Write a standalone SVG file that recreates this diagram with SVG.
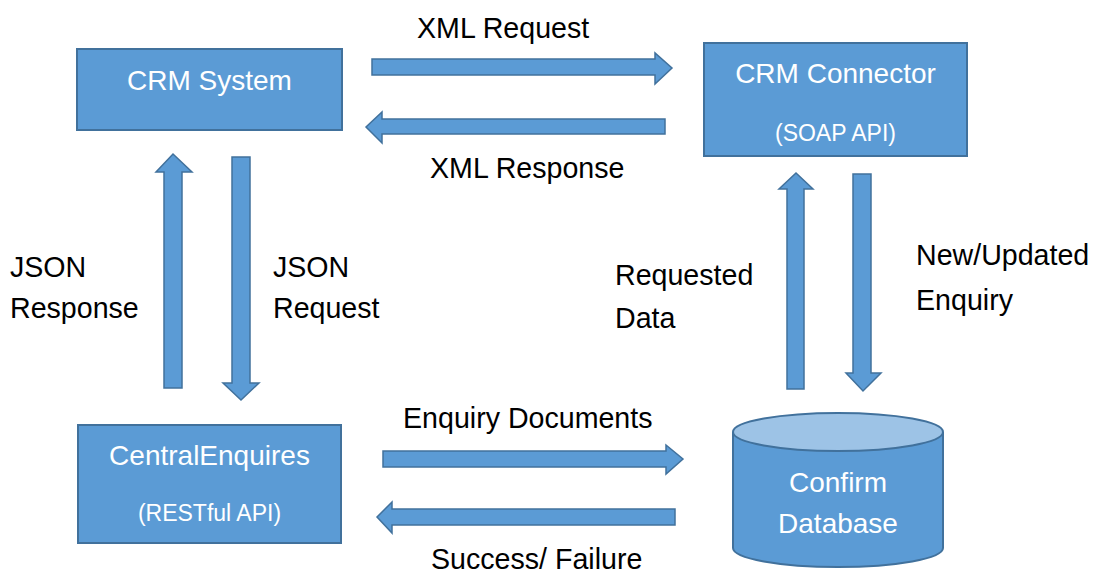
<svg xmlns="http://www.w3.org/2000/svg" width="1105" height="573" viewBox="0 0 1105 573">
<style>
.box{fill:#5b9bd5;stroke:#41719c;stroke-width:2}
.arr{fill:#5b9bd5;stroke:#41719c;stroke-width:1.5;stroke-linejoin:miter}
.top{fill:#9dc3e6;stroke:#41719c;stroke-width:2}
.t{font-family:"Liberation Sans",Arial,sans-serif;font-size:28.6px;fill:#000}
.w{font-family:"Liberation Sans",Arial,sans-serif;font-size:28px;fill:#fff;text-anchor:middle}
.s{font-family:"Liberation Sans",Arial,sans-serif;font-size:23px;fill:#fff;text-anchor:middle}
</style>
<rect width="1105" height="573" fill="#fff"/>
<g id="crm-system">
<rect class="box" x="77" y="49" width="265" height="81"/>
<text class="w" x="209.5" y="90">CRM System</text>
</g>
<g id="crm-connector">
<rect class="box" x="704" y="43" width="263" height="113"/>
<text class="w" x="835.5" y="83">CRM Connector</text>
<text class="s" x="835.5" y="141">(SOAP API)</text>
</g>
<g id="central-enquires">
<rect class="box" x="78" y="425" width="263" height="118"/>
<text class="w" x="209.5" y="465">CentralEnquires</text>
<text class="s" x="209.5" y="521">(RESTful API)</text>
</g>
<g id="confirm-database">
<path class="box" d="M733,432 L733,548 A105,19 0 0 0 943,548 L943,432"/>
<ellipse class="top" cx="838" cy="432" rx="105" ry="19"/>
<text class="w" x="838" y="492">Confirm</text>
<text class="w" x="838" y="533">Database</text>
</g>
<g id="connectors">
<path class="arr" d="M372,59 L655,59 L655,53 L672,68 L655,84 L655,75 L372,75 Z"/>
<path class="arr" d="M665,119 L382,119 L382,112 L366,127 L382,143 L382,134 L665,134 Z"/>
<path class="arr" d="M164,388 L164,172 L156,172 L173,154 L192,172 L182,172 L182,388 Z"/>
<path class="arr" d="M232,157 L250,157 L250,383 L259,383 L241,400 L223,383 L232,383 Z"/>
<path class="arr" d="M787,389 L787,189 L779,189 L796,173 L813,189 L804,189 L804,389 Z"/>
<path class="arr" d="M853,174 L871,174 L871,373 L881,373 L863,391 L846,373 L853,373 Z"/>
<path class="arr" d="M383,451 L666,451 L666,445 L683,459 L666,474 L666,467 L383,467 Z"/>
<path class="arr" d="M675,509 L392,509 L392,502 L377,517 L392,533 L392,525 L675,525 Z"/>
</g>
<g id="labels">
<text class="t" x="417" y="38">XML Request</text>
<text class="t" x="430" y="178">XML Response</text>
<text class="t" x="10" y="277">JSON</text>
<text class="t" x="10" y="318">Response</text>
<text class="t" x="273" y="277">JSON</text>
<text class="t" x="273" y="318">Request</text>
<text class="t" x="615" y="285">Requested</text>
<text class="t" x="615" y="328">Data</text>
<text class="t" x="916" y="265">New/Updated</text>
<text class="t" x="916" y="310">Enquiry</text>
<text class="t" x="403" y="428">Enquiry Documents</text>
<text class="t" x="431" y="569">Success/ Failure</text>
</g>
</svg>
